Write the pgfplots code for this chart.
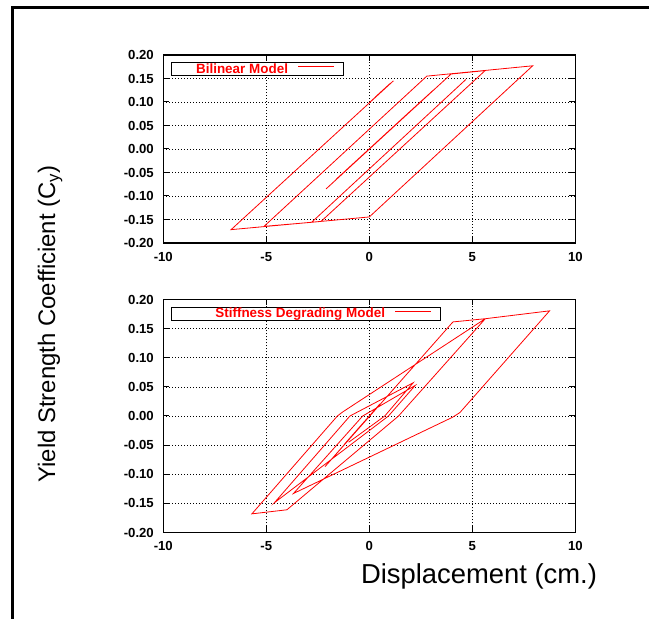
\documentclass[border=0pt]{standalone}
\usepackage{fontspec}
\setmainfont{Liberation Sans}
\usepackage{pgfplots}
\usepackage{pgfplotstable}
\pgfplotsset{compat=1.18}

\pgfplotstableread{
x y
0 0
-1.0 -0.040
2.0 0.081
-2.10 -0.085
3.1 0.125
-1.6 -0.064
2.6 0.105
-2.0 -0.081
3.97 0.1595
5.62 0.1667
-2.34 -0.154
-2.80 -0.156
4.69 0.148
-2.80 -0.156
-5.11 -0.1646
2.79 0.155
7.93 0.177
0.0 -0.1446
-6.71 -0.1716
1.17 0.145
0.0 0.0985
1.0 0.139
0.1 0.102
0.9 0.135
0.3 0.111
}\bilinear

\pgfplotstableread{
x y
0 0
-1.2 -0.048
0.5 0.020
-2.15 -0.087
0.52 0.021
-1.9 -0.077
0.4 0.016
-2.0 -0.081
4.06 0.1615
5.63 0.167
1.42 0.0
-4.0 -0.161
-5.70 -0.168
-1.55 0.0
-1.29 0.007
5.63 0.167
8.75 0.1805
4.40 0.006
4.05 -0.002
-3.68 -0.133
-0.32 0.0
2.23 0.0525
0.93 0.0
-4.61 -0.149
-0.94 0.0
2.13 0.057
0.75 0.0
-1.0 -0.045
}\degrading

\pgfplotsset{
  hyst/.style={
    scale only axis, width=412bp,
    xmin=-10, xmax=10, ymin=-0.2, ymax=0.2,
    xtick={-10,-5,0,5,10}, xticklabels={-10,-5,0,5,10},
    ytick={-0.2,-0.15,-0.1,-0.05,0,0.05,0.1,0.15,0.2},
    yticklabels={-0.20,-0.15,-0.10,-0.05,0.00,0.05,0.10,0.15,0.20},
    tick align=inside, major tick length=6bp,
    grid=major,
    major grid style={black, line width=0.6bp, dash pattern=on 1bp off 2bp},
    axis line style={line width=1.6bp},
    tick style={black, line width=1bp},
    ticklabel style={font=\fontsize{13.2}{13.2}\selectfont\bfseries},
    xticklabel style={inner sep=0pt, anchor=north, yshift=-9bp},
    yticklabel style={inner sep=0pt, anchor=east, xshift=-9.3bp},
    legend plot pos=right,
    legend image code/.code={\path (0bp,0bp) (54.7bp,0bp); \draw[draw=red, color=red, line width=0.9bp] (10bp,2.4bp) -- (46bp,2.4bp);},
    legend style={anchor=north west, draw=black, line width=1bp, fill=white,
      inner sep=0pt, outer sep=0pt, column sep=0pt,
      font=\fontsize{13.5}{13.5}\selectfont\bfseries, text=red,
      nodes={inner sep=0pt, text height=10.4bp, text depth=2.9bp}},
  }
}

\begin{document}
\begin{tikzpicture}[x=1bp,y=1bp]
\path[use as bounding box] (0,0) rectangle (649,619);
\draw[line width=3bp, line join=miter] (12,0) -- (12,611.5) -- (649,611.5);

\begin{axis}[hyst, at={(163.3bp,376bp)}, anchor=south west, height=188bp,
  legend style={at={(0.0211,0.959)}}]
\addplot[red, line width=0.8bp] table[x=x,y=y] {\bilinear};
\addlegendentry{\makebox[116bp][r]{Bilinear Model}}
\end{axis}

\begin{axis}[hyst, at={(163.3bp,86.5bp)}, anchor=south west, height=233bp,
  legend style={at={(0.0211,0.9657)}}]
\addplot[red, line width=0.8bp] table[x=x,y=y] {\degrading};
\addlegendentry{\makebox[213bp][r]{Stiffness Degrading Model}}
\end{axis}

\node[rotate=90, anchor=center, font=\fontsize{24}{24}\selectfont] at (50,295) {Yield Strength Coefficient (C\textsubscript{y})};
\node[anchor=center, font=\fontsize{27.5}{27.5}\selectfont] at (479,43) {Displacement (cm.)};
\end{tikzpicture}
\end{document}
